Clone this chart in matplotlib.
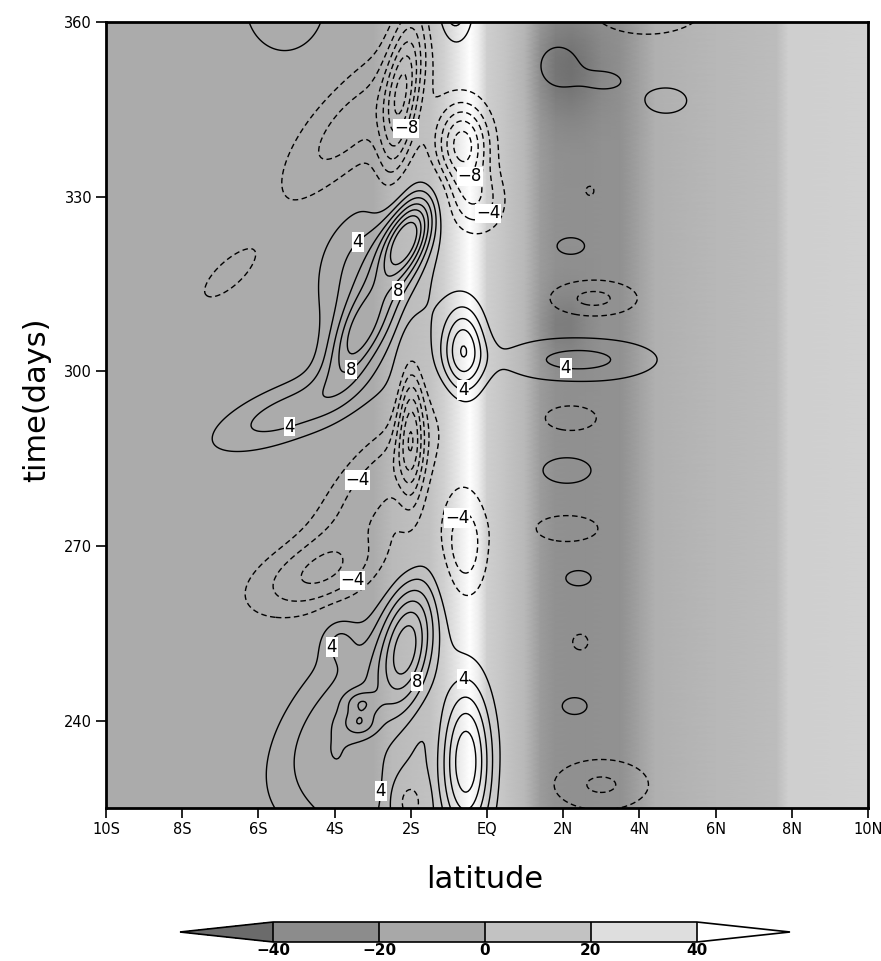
import numpy as np
import matplotlib.pyplot as plt
import matplotlib.cm as cm
from matplotlib.colors import LinearSegmentedColormap, ListedColormap, BoundaryNorm, Normalize

# shaded field: profile across latitude (same at all times)
bg_lat = [-10, -3.0, -2.5, -1.5, -1.1, -0.7, -0.45, -0.2, 0.0, 0.5, 1.0,
          1.4, 1.8, 2.2, 2.6, 3.0, 3.5, 4.0, 4.4, 6.0, 7.6, 7.9, 10]
bg_val = [-7, -7, 4, 10, 22, 40, 50, 38, 20, 12, 2,
          -18, -25, -26, -26, -25, -25, -14, -4, 2, 6, 20, 22]

# darker patches in the shading near 2N
patch_lat = [2.1, 2.0]
patch_day = [352, 308]
patch_amp = [-20, -14]
patch_wlat = [0.6, 0.4]
patch_wday = [6, 4]

# contoured anomaly, as blobs
blob_lat = [-5.3, -0.85, -2.1, -3.0, -3.4, -5.2, -0.62, 2.4,
            -2.1, -3.3, -3.35, -3.7, -3.9, -3.4, -0.55,
            1.9, 3.1, 4.7, 4.2, 2.7, 2.2, 2.8, 2.2, 2.1, 2.1, 2.4, 2.45, 2.3, 3.0,
            -2.25, -3.6, -0.65, -0.3, -2.0, -2.9, -4.4, -0.6, -2.05, -6.8]
blob_day = [363, 363, 323, 315, 306, 293, 303.5, 302,
            253, 243, 239.5, 242, 254, 226, 233,
            352.5, 350, 346.5, 363, 331, 321.5, 312.5, 292, 283, 273, 264.5, 253.5, 242.5, 229,
            347, 342, 339, 329, 290, 281, 265, 270, 226, 316.5]
blob_amp = [3.8, 6, 14, 5.5, 8, 5, 9.5, 4.6,
            11, 4, 4, 5, 3, 4.5, 11.5,
            3.2, 2.6, 3, -4.5, -2.3, 2.6, -4.5, -3, 3, -3, 2.5, -2.5, 2.6, -4.3,
            -10, -5, -11, -5, -9, -5, -5.5, -5.5, -5.5, -3]
blob_wlat = [0.9, 0.35, 0.42, 1.0, 0.45, 1.1, 0.4, 1.6,
             0.5, 0.3, 0.3, 1.1, 0.35, 1.1, 0.48,
             0.5, 0.5, 0.6, 1.2, 0.2, 0.5, 0.9, 0.75, 0.7, 0.9, 0.5, 0.3, 0.45, 1.0,
             0.33, 0.9, 0.5, 0.55, 0.25, 0.8, 1.2, 0.45, 0.3, 0.45]
blob_wday = [7, 5, 5, 10, 6, 5, 5.5, 3,
             8, 1.5, 1.5, 11, 3, 8, 9.5,
             3.5, 1.8, 2.4, 4, 1.5, 2, 2.5, 2.5, 2.5, 2.5, 2, 2, 2, 3.5,
             10, 10, 5, 4, 9, 9, 5, 7, 3, 4]
blob_tilt = [0, 0, 0.05, 0, 0.06, 0.2, 0, 0,
             0.02, 0, 0, 0.08, 0, 0, 0,
             0, 0, 0, 0, 0, 0, 0, 0, 0, 0, 0, 0, 0, 0,
             0.02, 0.1, 0, 0, 0, 0.1, 0.12, 0, 0, 0.12]

shade_bounds = [-40, -20, 0, 20, 40]
shade_grays = ['0.42', '0.55', '0.66', '0.76', '0.87', '1.0']
contour_levels = [-14, -12, -10, -8, -6, -4, -2, 2, 4, 6, 8, 10, 12, 14]
label_levels = [-8, -4, 4, 8]
xtick_vals = [-10, -8, -6, -4, -2, 0, 2, 4, 6, 8, 10]
xtick_text = ['10S', '8S', '6S', '4S', '2S', 'EQ', '2N', '4N', '6N', '8N', '10N']
ytick_vals = [240, 270, 300, 330, 360]

# where the contour labels sit (lat, day)
label_spots = [(-3.73, 324.7), (-5.17, 290.1), (2.05, 299.3), (-0.63, 296.3),
               (-3.86, 252.7), (-0.63, 247.5), (-3.5, 228.4),
               (-2.55, 314.9), (-3.54, 300.0), (-2.15, 247.9),
               (-3.6, 282.4), (0.0, 327.3), (-1.05, 276.3), (-3.52, 264.0),
               (-2.4, 342.5), (-0.3, 332.4)]


def bump(lat, day, lat0, day0, amp, wl, wd, tilt):
    c = lat0 + tilt * (day - day0)
    return amp * np.exp(-0.5 * ((lat - c) / wl) ** 2 - 0.5 * ((day - day0) / wd) ** 2)


# background grid
bday = np.arange(220, 367, 1.0)
BLAT, BDAY = np.meshgrid(bg_lat, bday)
bg = np.tile(np.array(bg_val, float), (len(bday), 1))
for i in range(len(patch_lat)):
    bg += bump(BLAT, BDAY, patch_lat[i], patch_day[i], patch_amp[i],
               patch_wlat[i], patch_wday[i], 0)

# anomaly grid
lat = np.linspace(-10, 10, 401)
day = np.linspace(220, 366, 585)
LAT, DAY = np.meshgrid(lat, day)
F = np.zeros_like(LAT)
for i in range(len(blob_lat)):
    F += bump(LAT, DAY, blob_lat[i], blob_day[i], blob_amp[i],
              blob_wlat[i], blob_wday[i], blob_tilt[i])

gray_cmap = LinearSegmentedColormap.from_list(
    'g', [(0.0, '0.35'), (20 / 110, '0.48'), (40 / 110, '0.60'), (60 / 110, '0.71'),
          (80 / 110, '0.81'), (100 / 110, '0.93'), (1.0, '1.0')])

fig = plt.figure(figsize=(8.81, 9.61), dpi=100)
ax = fig.add_axes([106 / 881, 1 - 808 / 961, 762 / 881, 786 / 961])

ax.pcolormesh(BLAT, BDAY, bg, shading='gouraud', cmap=gray_cmap,
              norm=Normalize(-60, 50), rasterized=True)

styles = [(0, (4, 2.5)) if lv < 0 else 'solid' for lv in contour_levels]
cs = ax.contour(LAT, DAY, F, levels=contour_levels, colors='k',
                linewidths=1.0, linestyles=styles)

# invisible copy holding only the labelled levels, used to place the labels
cs_lab = ax.contour(LAT, DAY, F, levels=label_levels, colors='none', linewidths=0)
fmt = lambda v: f'{v:.0f}'.replace('-', '\u2212')
texts = cs_lab.clabel(manual=label_spots, inline=False, fontsize=12, fmt=fmt)
for t in texts:
    t.set_color('k')
    t.set_bbox(dict(facecolor='white', edgecolor='none', pad=0.5))
    t.set_rotation(0)
    t.set_zorder(5)

ax.set_xlim(-10, 10)
ax.set_ylim(225, 360)
ax.set_xticks(xtick_vals)
ax.set_xticklabels(xtick_text)
ax.set_yticks(ytick_vals)
ax.tick_params(direction='out', length=7, width=1.2, labelsize=10.5, pad=3)
for s in ax.spines.values():
    s.set_linewidth(2)

fig.text(485 / 881, 1 - 880 / 961, 'latitude', ha='center', va='center', fontsize=22)
fig.text(37 / 881, 1 - 400 / 961, 'time(days)', ha='center', va='center',
         fontsize=22, rotation=90)

# colorbar
cb_cmap = ListedColormap(shade_grays[1:5])
cb_cmap.set_under(shade_grays[0])
cb_cmap.set_over(shade_grays[5])
sm = cm.ScalarMappable(norm=BoundaryNorm(shade_bounds, 4), cmap=cb_cmap)
cax = fig.add_axes([180 / 881, 1 - 942 / 961, 610 / 881, 20 / 961])
cb = fig.colorbar(sm, cax=cax, orientation='horizontal', extend='both',
                  extendfrac=0.22, drawedges=True, ticks=shade_bounds)
cb.ax.set_xticklabels([fmt(v) for v in shade_bounds], fontweight='bold')
cb.ax.tick_params(length=0, labelsize=11, pad=1)
cb.outline.set_linewidth(1.2)
cb.dividers.set_linewidth(1.2)

fig.savefig('out.png', dpi=100)
